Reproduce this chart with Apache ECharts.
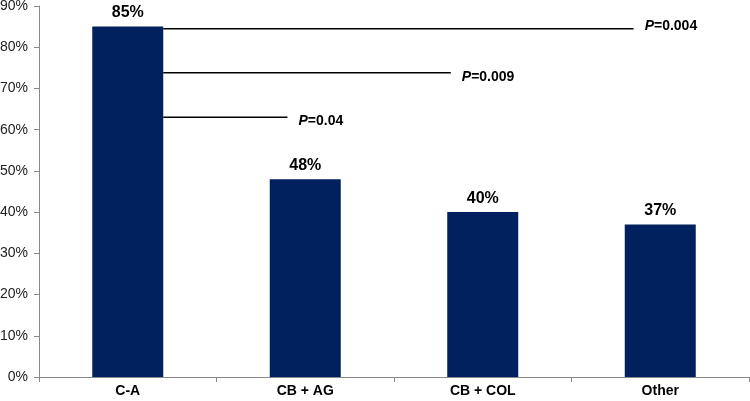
<!DOCTYPE html>
<html><head><meta charset="utf-8">
<script src="https://cdn.jsdelivr.net/npm/echarts@6/dist/echarts.min.js"></script>
<style>html,body{margin:0;padding:0;background:#fff}#c{width:750px;height:401px}</style>
</head><body><div id="c"></div>
<script>
const categories = ['C-A', 'CB + AG', 'CB + COL', 'Other'];
const values = [85, 48, 40, 37];
const yTicks = [0, 10, 20, 30, 40, 50, 60, 70, 80, 90];
// comparison brackets on a 0..4 overlay scale
const pStart = [0.7, 0.7, 0.7];
const pEnd = [3.35, 2.32, 1.40];
const pLevel = [84.5, 73.8, 63.0];
const pLabels = ['0.004', '0.009', '0.04'];
const pLabelShift = [-3, 4, 4];

const chart = echarts.init(document.getElementById('c'));
const lineSeries = pLevel.map((y, i) => ({
  type: 'line', xAxisIndex: 1, symbol: 'none', silent: true,
  lineStyle: { color: '#000', width: 1.5 },
  data: [[pStart[i], y], [pEnd[i], y]],
  endLabel: {
    show: true, distance: 11, offset: [0, pLabelShift[i]],
    formatter: () => '{i|P}{b|=' + pLabels[i] + '}',
    rich: {
      i: { fontStyle: 'italic', fontWeight: 'bold', fontSize: 14, fontFamily: 'Liberation Sans', color: '#000' },
      b: { fontWeight: 'bold', fontSize: 14, fontFamily: 'Liberation Sans', color: '#000' }
    }
  }
}));
chart.setOption({
  animation: false,
  grid: { left: 39, right: 1, top: 6, bottom: 24, containLabel: false, outerBoundsMode: 'none' },
  xAxis: [{
    type: 'category', data: categories,
    axisLine: { lineStyle: { color: '#8a8a8a' } },
    axisTick: { show: true, alignWithLabel: false, length: 5, lineStyle: { color: '#8a8a8a' } },
    axisLabel: { color: '#000', fontWeight: 'bold', fontSize: 14, fontFamily: 'Liberation Sans', margin: 7 }
  }, {
    type: 'value', min: 0, max: 4, show: false
  }],
  yAxis: {
    type: 'value', min: 0, max: 90, interval: 10,
    axisLine: { show: true, lineStyle: { color: '#8a8a8a' } },
    axisTick: { show: true, length: 5, lineStyle: { color: '#8a8a8a' } },
    splitLine: { show: false },
    axisLabel: { color: '#222', fontSize: 14, fontFamily: 'Liberation Sans', margin: 11,
      formatter: (v) => yTicks.includes(v) ? v + '%' : '' }
  },
  series: [{
    type: 'bar', data: values, barWidth: '40%',
    itemStyle: { color: '#00205e' },
    label: { show: true, position: 'top', distance: 6, formatter: '{c}%',
      color: '#000', fontWeight: 'bold', fontSize: 16, fontFamily: 'Liberation Sans' }
  }].concat(lineSeries)
});
</script></body></html>
